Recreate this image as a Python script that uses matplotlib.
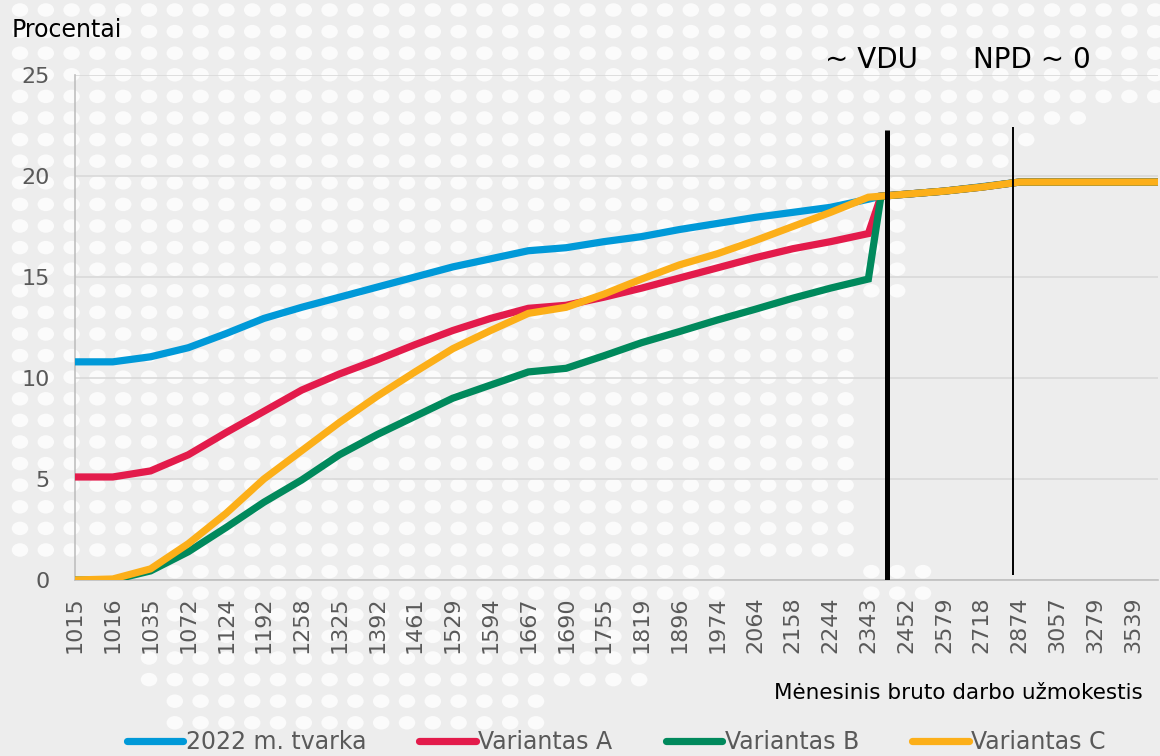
import matplotlib
matplotlib.use('Agg')
import matplotlib.pyplot as plt
from matplotlib.collections import EllipseCollection
from matplotlib.lines import Line2D
import numpy as np

# ---------------- data ----------------
tick_labels = ['1015', '1016', '1035', '1072', '1124', '1192', '1258', '1325', '1392',
               '1461', '1529', '1594', '1667', '1690', '1755', '1819', '1896', '1974',
               '2064', '2158', '2244', '2343', '2452', '2579', '2718', '2874', '3057',
               '3279', '3539']
label_step = 3          # one label every third category
n_categories = 87

# category index of each plotted value
point_cat = [0, 3, 6, 9, 12, 15, 18, 21, 24, 27, 30, 33, 36, 39, 42, 45, 48, 51, 54, 57,
             60, 63, 64, 66, 69, 72, 75, 78, 81, 84, 86]

series_names = ['2022 m. tvarka', 'Variantas A', 'Variantas B', 'Variantas C']

tvarka_2022 = [10.8, 10.8, 11.05, 11.5, 12.2, 12.95, 13.5, 14.0, 14.5, 15.0, 15.5, 15.9,
               16.3, 16.45, 16.75, 17.0, 17.35, 17.65, 17.95, 18.2, 18.45, 18.85,
               19.0, 19.1, 19.25, 19.47, 19.7, 19.7, 19.7, 19.7, 19.7]
variantas_a = [5.1, 5.1, 5.4, 6.2, 7.3, 8.35, 9.4, 10.2, 10.9, 11.65, 12.35, 12.95,
               13.45, 13.6, 14.0, 14.45, 14.95, 15.45, 15.95, 16.4, 16.75, 17.15,
               19.0, 19.1, 19.25, 19.45, 19.7, 19.7, 19.7, 19.7, 19.7]
variantas_b = [0.0, 0.0, 0.45, 1.4, 2.6, 3.85, 4.95, 6.2, 7.2, 8.1, 9.0, 9.65,
               10.3, 10.48, 11.1, 11.75, 12.3, 12.87, 13.4, 13.95, 14.45, 14.9,
               19.0, 19.1, 19.25, 19.45, 19.7, 19.7, 19.7, 19.7, 19.7]
variantas_c = [0.0, 0.05, 0.55, 1.8, 3.3, 5.0, 6.4, 7.8, 9.1, 10.3, 11.45, 12.35,
               13.2, 13.5, 14.15, 14.9, 15.6, 16.15, 16.8, 17.5, 18.2, 18.95,
               19.0, 19.1, 19.25, 19.45, 19.7, 19.7, 19.7, 19.7, 19.7]

series_values = [tvarka_2022, variantas_a, variantas_b, variantas_c]
series_colors = ['#0099D8', '#E31B4B', '#00895C', '#FCAF19']

# ---------------- figure ----------------
W, H = 1160, 756
fig = plt.figure(figsize=(W / 100, H / 100), dpi=100)
fig.patch.set_facecolor('#EDEDED')

# decorative dotted background
bg = fig.add_axes([0, 0, 1, 1], zorder=0)
bg.set_xlim(0, W)
bg.set_ylim(H, 0)
bg.axis('off')


def dot_present(x, y):
    if y < 100:
        return True
    if y < 165:
        return x < 1130 - (y - 100) * 2
    if y < 300:
        return x < 905
    if y < 560:
        return x < 870
    if y < 600:
        return (160 < x < 740) or (860 < x < 940)
    if y < 700:
        return 140 < x < 640
    if y < 725:
        return 170 < x < 560
    return False


xs, ys = [], []
for yy in np.arange(10, H, 21.6):
    for xx in np.arange(20, W + 20, 25.8):
        if dot_present(xx, yy):
            xs.append(xx)
            ys.append(yy)
offs = np.column_stack([xs, ys])
ec = EllipseCollection(np.full(len(xs), 16.5), np.full(len(xs), 13.5), np.zeros(len(xs)),
                       units='xy', offsets=offs, offset_transform=bg.transData,
                       facecolors='#FBFBFB', edgecolors='none')
bg.add_collection(ec)

# main axes
ax = fig.add_axes([75 / W, 176 / H, 1083 / W, 505 / H], zorder=1)
ax.set_facecolor('none')
ax.set_xlim(0, n_categories - 1)
ax.set_ylim(0, 25)

ax.set_yticks(np.arange(0, 26, 5))
ax.grid(axis='y', color='#D9D9D9', linewidth=1.2, zorder=0)
ax.set_axisbelow(True)

label_pos = np.arange(len(tick_labels)) * label_step
ax.set_xticks(label_pos)
ax.set_xticklabels(tick_labels, rotation=90, va='top', ha='center')

for s in ['top', 'right']:
    ax.spines[s].set_visible(False)
for s in ['left', 'bottom']:
    ax.spines[s].set_color('#BFBFBF')
    ax.spines[s].set_linewidth(1.2)

ax.tick_params(axis='both', length=0, labelsize=16, labelcolor='#595959')
ax.tick_params(axis='y', pad=18)
ax.tick_params(axis='x', pad=12)

handles = []
for name, vals, col in zip(series_names, series_values, series_colors):
    ax.plot(point_cat, vals, color=col, linewidth=5.2, solid_joinstyle='miter',
            solid_capstyle='butt', label=name, zorder=3)
    handles.append(Line2D([0], [0], color=col, linewidth=5.2, solid_capstyle='round'))

# reference lines
ax.vlines(64.5, 0, 22.3, color='black', linewidth=3.6, zorder=4)
ax.vlines(74.45, 0.25, 22.45, color='black', linewidth=1.4, zorder=4)

# texts
fig.text(12 / W, 1 - 30 / H, 'Procentai', fontsize=17, color='black', ha='left', va='center')
fig.text(871 / W, 1 - 60 / H, '~ VDU', fontsize=20, color='black', ha='center', va='center')
fig.text(1032 / W, 1 - 60 / H, 'NPD ~ 0', fontsize=20, color='black', ha='center', va='center')
fig.text(1143 / W, 1 - 693 / H, 'Mėnesinis bruto darbo užmokestis', fontsize=15.5,
         color='black', ha='right', va='center')

leg = fig.legend(handles, series_names, loc='center', bbox_to_anchor=(616 / W, 1 - 742 / H),
                 ncol=4, frameon=False, fontsize=17, handlelength=2.4, handletextpad=0.1,
                 columnspacing=2.25, borderaxespad=0)
for t in leg.get_texts():
    t.set_color('#595959')

fig.savefig('out.png', dpi=100, facecolor=fig.get_facecolor())
